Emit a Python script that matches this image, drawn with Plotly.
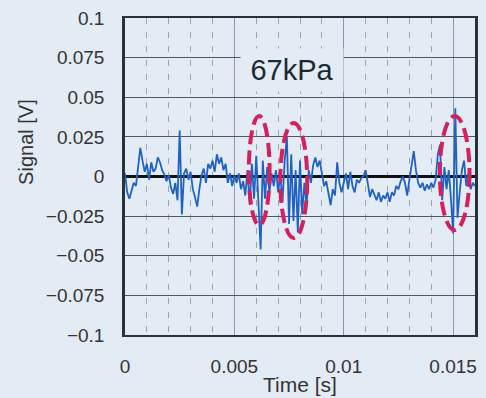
import plotly.graph_objects as go

# ---- data ----
time_s = [
    0.0000, 0.0001, 0.0002, 0.0003, 0.0004, 0.0005, 0.0006, 0.0007, 0.0008, 0.0009,
    0.0010, 0.0011, 0.0012, 0.0013, 0.0014, 0.0015, 0.0016, 0.0017, 0.0018, 0.0019,
    0.0020, 0.0021, 0.0022, 0.0023, 0.0024, 0.0025, 0.0026, 0.0027, 0.0028, 0.0029,
    0.0030, 0.0031, 0.0032, 0.0033, 0.0034, 0.0035, 0.0036, 0.0037, 0.0038, 0.0039,
    0.0040, 0.0041, 0.0042, 0.0043, 0.0044, 0.0045, 0.0046, 0.0047, 0.0048, 0.0049,
    0.0050, 0.0051, 0.0052, 0.0053, 0.0054, 0.0055, 0.0056, 0.0057, 0.0058, 0.0059,
    0.0060, 0.0061, 0.0062, 0.0063, 0.0064, 0.0065, 0.0066, 0.0067, 0.0068, 0.0069,
    0.0070, 0.0071, 0.0072, 0.0073, 0.0074, 0.0075, 0.0076, 0.0077, 0.0078, 0.0079,
    0.0080, 0.0081, 0.0082, 0.0083, 0.0084, 0.0085, 0.0086, 0.0087, 0.0088, 0.0089,
    0.0090, 0.0091, 0.0092, 0.0093, 0.0094, 0.0095, 0.0096, 0.0097, 0.0098, 0.0099,
    0.0100, 0.0101, 0.0102, 0.0103, 0.0104, 0.0105, 0.0106, 0.0107, 0.0108, 0.0109,
    0.0110, 0.0111, 0.0112, 0.0113, 0.0114, 0.0115, 0.0116, 0.0117, 0.0118, 0.0119,
    0.0120, 0.0121, 0.0122, 0.0123, 0.0124, 0.0125, 0.0126, 0.0127, 0.0128, 0.0129,
    0.0130, 0.0131, 0.0132, 0.0133, 0.0134, 0.0135, 0.0136, 0.0137, 0.0138, 0.0139,
    0.0140, 0.0141, 0.0142, 0.0143, 0.0144, 0.0145, 0.0146, 0.0147, 0.0148, 0.0149,
    0.0150, 0.0151, 0.0152, 0.0153, 0.0154, 0.0155, 0.0156, 0.0157, 0.0158, 0.0159,
    0.0160,
]
signal_v = [
    0.002, -0.010, -0.014, -0.008, -0.004, -0.006, 0.006, 0.018, 0.010, 0.003,
    0.008, -0.002, 0.009, 0.003, 0.005, 0.012, 0.009, 0.004, 0.001, -0.003,
    0.001, -0.007, -0.011, -0.004, -0.015, 0.029, -0.024, 0.002, 0.005, -0.002,
    0.003, -0.008, -0.013, -0.019, -0.008, 0.001, 0.005, -0.004, 0.008, 0.005,
    0.010, 0.003, 0.014, 0.008, 0.012, 0.004, 0.008, -0.004, 0.002, -0.006,
    0.001, -0.004, 0.002, -0.008, -0.003, -0.012, 0.004, -0.018, 0.008, -0.014,
    0.013, -0.022, -0.046, 0.010, -0.014, 0.006, -0.010, 0.002, -0.006, 0.004,
    -0.010, 0.001, -0.016, 0.010, 0.025, -0.030, 0.014, -0.028, 0.004, -0.035,
    0.010, -0.024, -0.004, -0.018, 0.004, -0.004, 0.007, 0.012, 0.006, 0.010,
    0.002, -0.006, -0.003, -0.012, -0.018, -0.008, -0.012, 0.009, -0.004, -0.010,
    -0.003, 0.002, -0.008, 0.003, -0.006, -0.010, -0.002, -0.004, -0.001, 0.000,
    0.004, -0.004, -0.013, -0.008, -0.012, -0.015, -0.010, -0.016, -0.012, -0.014,
    -0.010, -0.016, -0.010, -0.012, -0.006, -0.008, -0.003, 0.000, -0.004, -0.012,
    -0.002, 0.006, 0.016, 0.004, -0.004, -0.007, -0.004, -0.009, -0.005, -0.008,
    -0.004, -0.007, -0.002, 0.014, 0.020, -0.015, 0.006, -0.008, 0.004, -0.014,
    -0.036, 0.043, -0.026, -0.010, 0.004, 0.010, -0.006, 0.002, -0.008, -0.004,
    -0.006,
]

# highlighted regions (dashed ellipses): [t0, t1], [v0, v1]
ellipse_t = [(0.00566, 0.00661), (0.00710, 0.00833), (0.01439, 0.01575)]
ellipse_v = [(-0.0306, 0.0381), (-0.0388, 0.0338), (-0.0338, 0.0381)]

label_text = "67kPa"
label_pos = (0.00765, 0.0675)

x_tickvals = [0, 0.005, 0.01, 0.015]
x_ticktext = ["0", "0.005", "0.01", "0.015"]
y_tickvals = [0.1, 0.075, 0.05, 0.025, 0, -0.025, -0.05, -0.075, -0.1]
y_ticktext = ["0.1", "0.075", "0.05", "0.025", "0",
              "\u22120.025", "\u22120.05", "\u22120.075", "\u22120.1"]

BG = "#e3ecf4"
FONT = "Liberation Sans, Arial, sans-serif"

fig = go.Figure()
fig.add_trace(go.Scatter(
    x=time_s, y=signal_v, mode="lines",
    line=dict(color="#1f62c4", width=1.8),
    showlegend=False, hoverinfo="skip",
))

for (t0, t1), (v0, v1) in zip(ellipse_t, ellipse_v):
    fig.add_shape(type="circle", xref="x", yref="y",
                  x0=t0, x1=t1, y0=v0, y1=v1,
                  line=dict(color="#d6205e", width=4, dash="14px,6px"))

fig.add_annotation(x=label_pos[0], y=label_pos[1], xref="x", yref="y",
                   text=label_text, showarrow=False,
                   font=dict(family=FONT, size=29, color="#1a2a30"),
                   bgcolor=BG, width=100, height=40)

fig.add_annotation(x=0.5, y=-0.155, xref="paper", yref="paper",
                   text="Time [s]", showarrow=False,
                   font=dict(family=FONT, size=21, color="#333"),
                   xanchor="center", yanchor="middle")
fig.add_annotation(x=-0.285, y=0.61, xref="paper", yref="paper",
                   text="Signal [V]", showarrow=False, textangle=-90,
                   font=dict(family=FONT, size=20, color="#333"),
                   xanchor="center", yanchor="middle")

fig.update_layout(
    width=486, height=398,
    margin=dict(l=125, r=8, t=16, b=63),
    paper_bgcolor=BG, plot_bgcolor=BG,
    font=dict(family=FONT, size=19, color="#333"),
)
fig.update_xaxes(
    range=[0, 0.016], tickvals=x_tickvals, ticktext=x_ticktext,
    showgrid=True, gridcolor="#8a9aaa", gridwidth=1,
    minor=dict(dtick=0.001, tick0=0, showgrid=True, gridcolor="#98a4ae",
               griddash="6px,8px", gridwidth=1),
    showline=True, linecolor="#26343a", linewidth=2, mirror=True,
    zeroline=False, ticks="", ticklabelstandoff=13,
    tickfont=dict(size=19),
)
fig.update_yaxes(
    range=[-0.1, 0.1], tickvals=y_tickvals, ticktext=y_ticktext,
    showgrid=True, gridcolor="#4c5a60", gridwidth=1.3,
    showline=True, linecolor="#26343a", linewidth=2.5, mirror=True,
    zeroline=True, zerolinecolor="#111", zerolinewidth=3,
    ticks="", ticklabelstandoff=14,
    tickfont=dict(size=19),
)

fig.write_html("out.html")
